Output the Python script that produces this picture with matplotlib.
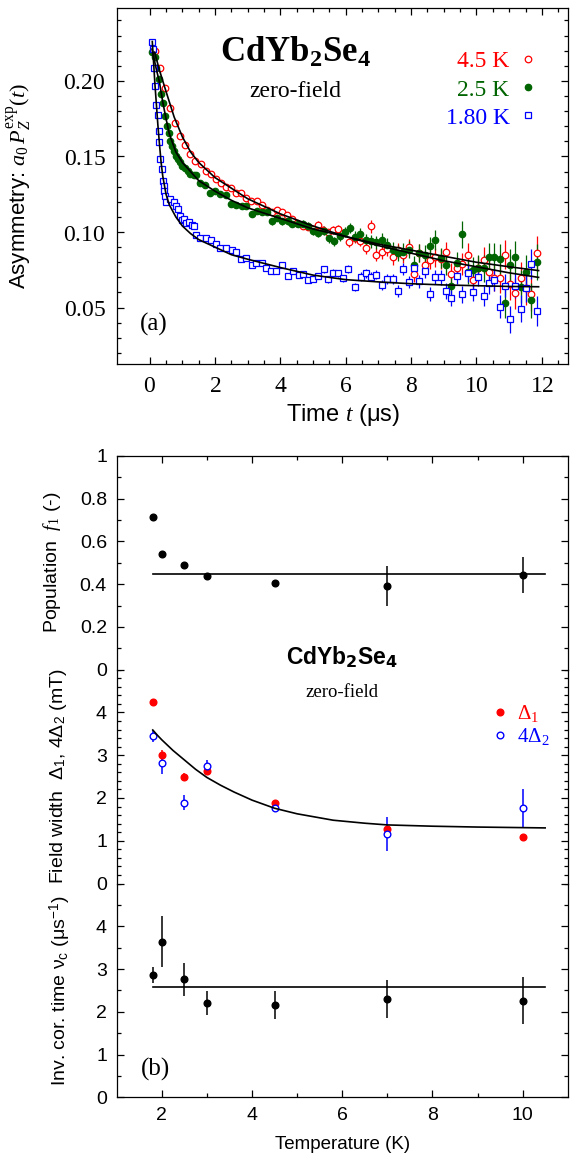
import matplotlib
matplotlib.use('Agg')
import matplotlib.pyplot as plt
from matplotlib.ticker import MultipleLocator, FixedLocator, FuncFormatter

plt.rcParams['font.family'] = ['Liberation Sans', 'DejaVu Sans']
plt.rcParams['mathtext.fontset'] = 'custom'
plt.rcParams['mathtext.rm'] = 'Liberation Serif'
plt.rcParams['mathtext.it'] = 'Liberation Serif:italic'
plt.rcParams['mathtext.bf'] = 'Liberation Serif:bold'
plt.rcParams['mathtext.sf'] = 'Liberation Sans'

# ---- panel (a): asymmetry vs time ----
t_red = [0.15, 0.31, 0.47, 0.62, 0.78, 0.94, 1.09, 1.24, 1.40, 1.56,
         1.71, 1.87, 2.02, 2.17, 2.33, 2.49, 2.64, 2.80, 2.96, 3.11,
         3.27, 3.43, 3.58, 3.73, 3.89, 4.05, 4.21, 4.36, 4.52, 4.68,
         4.83, 4.99, 5.15, 5.30, 5.46, 5.62, 5.77, 5.92, 6.09,
         6.28, 6.45, 6.61, 6.78, 6.94, 7.11, 7.27, 7.44, 7.60, 7.76,
         7.93, 8.09, 8.25, 8.41, 8.58, 8.74, 8.90, 9.06, 9.23, 9.39,
         9.57, 9.73, 9.89, 10.06, 10.22, 10.38, 10.54, 10.71, 10.87, 11.03,
         11.19, 11.36, 11.52, 11.68, 11.86]
a_red = [0.2195, 0.2084, 0.1956, 0.1823, 0.1723, 0.1635, 0.1573, 0.1518, 0.1469, 0.1451,
         0.1403, 0.1387, 0.1352, 0.1325, 0.1299, 0.1292, 0.1259, 0.1259, 0.1226, 0.1204,
         0.1204, 0.1181, 0.1144, 0.1130, 0.1144, 0.1130, 0.1115, 0.1086, 0.1060, 0.1042,
         0.1033, 0.1020, 0.1049, 0.1016, 0.0998, 0.1016, 0.1020, 0.0993, 0.0931,
         0.0960, 0.0943, 0.0894, 0.1038, 0.0851, 0.0865, 0.0890, 0.0832, 0.0878, 0.0845,
         0.0899, 0.0723, 0.0861, 0.0779, 0.0816, 0.0832, 0.0823, 0.0865, 0.0723, 0.0759,
         0.0787, 0.0851, 0.0683, 0.0761, 0.0816, 0.0734, 0.0699, 0.0694, 0.0851, 0.0654,
         0.0594, 0.0694, 0.0628, 0.0588, 0.0861]
e_red = [0.0008, 0.0008, 0.0008, 0.0009, 0.0009, 0.0009, 0.0010, 0.0010, 0.0010, 0.0011,
         0.0011, 0.0012, 0.0012, 0.0012, 0.0013, 0.0013, 0.0014, 0.0014, 0.0015, 0.0015,
         0.0016, 0.0016, 0.0017, 0.0017, 0.0018, 0.0018, 0.0019, 0.0020, 0.0020, 0.0021,
         0.0022, 0.0022, 0.0023, 0.0024, 0.0025, 0.0026, 0.0027, 0.0028, 0.0029,
         0.0035, 0.0037, 0.0039, 0.0044, 0.0042, 0.0044, 0.0046, 0.0048, 0.0050, 0.0052,
         0.0054, 0.0056, 0.0058, 0.0060, 0.0062, 0.0064, 0.0066, 0.0068, 0.0070, 0.0072,
         0.0074, 0.0077, 0.0080, 0.0083, 0.0086, 0.0089, 0.0092, 0.0095, 0.0098, 0.0101,
         0.0104, 0.0107, 0.0110, 0.0113, 0.0116]

t_green = [0.07, 0.15, 0.20, 0.29, 0.35, 0.41, 0.47, 0.53, 0.58, 0.63,
           0.67, 0.73, 0.80, 0.86, 0.92, 1.00, 1.08, 1.16, 1.24, 1.35,
           1.43, 1.53, 1.69, 1.86, 2.00, 2.16, 2.32, 2.49, 2.65, 2.81,
           2.96, 3.14, 3.28, 3.45, 3.59, 3.75, 3.89, 4.06, 4.22, 4.36,
           4.53, 4.69, 4.83, 4.99, 5.16, 5.32, 5.48, 5.65, 5.81, 5.97, 6.14,
           6.28, 6.45, 6.61, 6.78, 6.94, 7.11, 7.27, 7.44, 7.60, 7.76,
           7.93, 8.09, 8.25, 8.41, 8.58, 8.74, 8.90, 9.06, 9.23, 9.39,
           9.57, 9.73, 9.89, 10.06, 10.22, 10.38, 10.54, 10.71, 10.87, 11.03,
           11.19, 11.36, 11.52, 11.68, 11.86]
a_green = [0.2193, 0.2155, 0.2082, 0.2011, 0.1911, 0.1856, 0.1768, 0.1701, 0.1657, 0.1602,
           0.1569, 0.1535, 0.1502, 0.1480, 0.1462, 0.1436, 0.1425, 0.1403, 0.1387, 0.1376,
           0.1380, 0.1325, 0.1314, 0.1259, 0.1270, 0.1254, 0.1245, 0.1188, 0.1181, 0.1170,
           0.1170, 0.1121, 0.1141, 0.1130, 0.1130, 0.1070, 0.1093, 0.1070, 0.1070, 0.1055,
           0.1055, 0.1055, 0.1042, 0.1009, 0.0993, 0.1009, 0.0960, 0.0938, 0.0975, 0.0998, 0.1026,
           0.0970, 0.0986, 0.0944, 0.0938, 0.0931, 0.0949, 0.0915, 0.0882, 0.0861, 0.0871,
           0.0882, 0.0783, 0.0861, 0.0851, 0.0905, 0.0949, 0.0827, 0.0783, 0.0646, 0.0794,
           0.0986, 0.0734, 0.0750, 0.0761, 0.0761, 0.0834, 0.0834, 0.0823, 0.0533, 0.0783,
           0.0834, 0.0639, 0.0734, 0.0550, 0.0799]
e_green = [0.0008, 0.0008, 0.0008, 0.0008, 0.0009, 0.0009, 0.0009, 0.0009, 0.0010, 0.0010,
           0.0010, 0.0010, 0.0011, 0.0011, 0.0011, 0.0012, 0.0012, 0.0012, 0.0013, 0.0013,
           0.0013, 0.0014, 0.0014, 0.0015, 0.0015, 0.0016, 0.0016, 0.0017, 0.0017, 0.0018,
           0.0018, 0.0019, 0.0019, 0.0020, 0.0020, 0.0021, 0.0021, 0.0022, 0.0023, 0.0024,
           0.0024, 0.0025, 0.0026, 0.0027, 0.0028, 0.0029, 0.0030, 0.0031, 0.0032, 0.0033, 0.0034,
           0.0036, 0.0038, 0.0040, 0.0042, 0.0044, 0.0046, 0.0048, 0.0050, 0.0052, 0.0054,
           0.0056, 0.0058, 0.0060, 0.0062, 0.0064, 0.0066, 0.0068, 0.0070, 0.0073, 0.0076,
           0.0090, 0.0080, 0.0083, 0.0086, 0.0089, 0.0092, 0.0095, 0.0098, 0.0101, 0.0104,
           0.0107, 0.0110, 0.0113, 0.0116, 0.0119]

t_blue = [0.08, 0.11, 0.13, 0.17, 0.20, 0.24, 0.28, 0.30, 0.33, 0.37,
          0.40, 0.43, 0.45, 0.47, 0.51, 0.61, 0.73, 0.80, 0.88, 0.92,
          0.98, 1.05, 1.12, 1.20, 1.28, 1.35, 1.41, 1.53, 1.71, 1.89,
          2.02, 2.16, 2.34, 2.51, 2.65, 2.80, 2.96, 3.14, 3.26, 3.45,
          3.57, 3.72, 3.87, 4.06, 4.23, 4.38, 4.57, 4.69, 4.85, 5.00,
          5.16, 5.32, 5.46, 5.61, 5.77, 5.91, 6.08,
          6.28, 6.46, 6.61, 6.78, 6.94, 7.11, 7.27, 7.43, 7.60, 7.76,
          7.92, 8.09, 8.25, 8.41, 8.58, 8.74, 8.90, 9.06, 9.23, 9.39,
          9.57, 9.73, 9.89, 10.05, 10.22, 10.38, 10.54, 10.71, 10.87, 11.03,
          11.19, 11.36, 11.52, 11.68, 11.86]
a_blue = [0.2259, 0.2210, 0.2082, 0.1967, 0.1839, 0.1772, 0.1666, 0.1595, 0.1480, 0.1418,
          0.1336, 0.1303, 0.1270, 0.1241, 0.1197, 0.1219, 0.1197, 0.1175, 0.1153, 0.1104,
          0.1082, 0.1086, 0.1060, 0.1064, 0.1044, 0.1037, 0.0982, 0.0960, 0.0960, 0.0949,
          0.0922, 0.0894, 0.0894, 0.0878, 0.0865, 0.0820, 0.0827, 0.0781, 0.0798, 0.0798,
          0.0760, 0.0745, 0.0745, 0.0781, 0.0710, 0.0739, 0.0714, 0.0723, 0.0683, 0.0688,
          0.0710, 0.0754, 0.0688, 0.0732, 0.0728, 0.0694, 0.0754,
          0.0639, 0.0705, 0.0727, 0.0705, 0.0717, 0.0650, 0.0688, 0.0688, 0.0610, 0.0754,
          0.0672, 0.0761, 0.0676, 0.0743, 0.0590, 0.0701, 0.0701, 0.0610, 0.0562, 0.0710,
          0.0588, 0.0727, 0.0606, 0.0705, 0.0577, 0.0661, 0.0683, 0.0506, 0.0646, 0.0424,
          0.0646, 0.0492, 0.0628, 0.0787, 0.0478]
e_blue = [0.0006, 0.0006, 0.0006, 0.0006, 0.0006, 0.0006, 0.0007, 0.0007, 0.0007, 0.0007,
          0.0007, 0.0007, 0.0007, 0.0007, 0.0008, 0.0008, 0.0008, 0.0008, 0.0009, 0.0009,
          0.0009, 0.0009, 0.0010, 0.0010, 0.0010, 0.0010, 0.0011, 0.0011, 0.0011, 0.0012,
          0.0012, 0.0012, 0.0013, 0.0013, 0.0014, 0.0014, 0.0015, 0.0015, 0.0016, 0.0016,
          0.0017, 0.0017, 0.0018, 0.0018, 0.0019, 0.0019, 0.0020, 0.0020, 0.0021, 0.0021,
          0.0022, 0.0022, 0.0023, 0.0023, 0.0024, 0.0024, 0.0025,
          0.0027, 0.0028, 0.0029, 0.0030, 0.0031, 0.0033, 0.0034, 0.0035, 0.0037, 0.0038,
          0.0040, 0.0041, 0.0043, 0.0044, 0.0046, 0.0048, 0.0050, 0.0052, 0.0054, 0.0056,
          0.0058, 0.0060, 0.0062, 0.0065, 0.0067, 0.0070, 0.0073, 0.0076, 0.0079, 0.0089,
          0.0085, 0.0090, 0.0094, 0.0098, 0.0102]

# fit curves
fit_t_red = [0.15, 0.3, 0.5, 0.75, 1.0, 1.25, 1.5, 2.0, 2.5, 3.0, 3.5, 4.0, 5.0, 6.0,
             7.0, 8.0, 9.0, 10.0, 11.0, 11.9]
fit_red = [0.219, 0.207, 0.193, 0.176, 0.163, 0.153, 0.146, 0.136, 0.129, 0.122, 0.117,
           0.112, 0.104, 0.097, 0.091, 0.086, 0.081, 0.077, 0.073, 0.070]
fit_t_green = [0.07, 0.2, 0.3, 0.4, 0.5, 0.6, 0.8, 1.0, 1.25, 1.5, 2.0, 2.5, 3.0, 4.0,
               5.0, 6.0, 7.0, 8.0, 9.0, 10.0, 11.0, 11.9]
fit_green = [0.221, 0.208, 0.199, 0.186, 0.175, 0.165, 0.153, 0.146, 0.140, 0.134, 0.127,
             0.121, 0.116, 0.109, 0.102, 0.097, 0.092, 0.088, 0.084, 0.080, 0.077, 0.0745]
fit_t_blue = [0.08, 0.12, 0.16, 0.2, 0.25, 0.3, 0.35, 0.4, 0.5, 0.6, 0.8, 1.0, 1.25, 1.5,
              2.0, 2.5, 3.0, 4.0, 5.0, 6.0, 7.0, 8.0, 9.0, 10.0, 11.0, 11.9]
fit_blue = [0.226, 0.212, 0.198, 0.186, 0.171, 0.158, 0.146, 0.137, 0.125, 0.118, 0.110,
            0.104, 0.099, 0.095, 0.090, 0.085, 0.082, 0.0765, 0.0715, 0.0685, 0.067,
            0.0658, 0.065, 0.0645, 0.064, 0.0638]

# ---- panel (b): fit parameters vs temperature ----
temps = [1.8, 2.0, 2.5, 3.0, 4.5, 7.0, 10.0]
f1 = [0.715, 0.543, 0.488, 0.436, 0.404, 0.391, 0.444]
f1_err = [0.01, 0.01, 0.01, 0.01, 0.01, 0.093, 0.083]
f1_fit_T = [1.8, 10.5]
f1_fit = [0.449, 0.449]

delta1 = [4.24, 3.00, 2.50, 2.62, 1.89, 1.27, 1.08]
delta1_err = [0.07, 0.12, 0.09, 0.07, 0.06, 0.06, 0.04]
delta2x4 = [3.45, 2.82, 1.89, 2.75, 1.77, 1.16, 1.77]
delta2x4_err = [0.14, 0.25, 0.17, 0.14, 0.10, 0.40, 0.45]
width_fit_T = [1.8, 1.9, 2.0, 2.25, 2.5, 2.75, 3.0, 3.3, 3.6, 4.0, 4.5, 5.0, 5.8, 6.5,
               7.0, 8.0, 9.0, 10.5]
width_fit = [3.59, 3.47, 3.36, 3.11, 2.89, 2.67, 2.48, 2.30, 2.14, 1.95, 1.76, 1.63, 1.48,
             1.41, 1.37, 1.34, 1.32, 1.30]

nu_c = [2.86, 3.64, 2.76, 2.21, 2.16, 2.30, 2.26]
nu_c_err = [0.18, 0.60, 0.39, 0.28, 0.32, 0.44, 0.55]
nu_fit_T = [1.8, 10.5]
nu_fit = [2.59, 2.59]

RED = '#ff0000'
GREEN = '#006400'
BLUE = '#0000ff'
SERIF = 'Liberation Serif'


def style_ticks(ax, major=5, minor=3):
    ax.tick_params(which='both', direction='in', top=True, right=True, width=0.9)
    ax.tick_params(which='major', length=major)
    ax.tick_params(which='minor', length=minor)
    for s in ax.spines.values():
        s.set_linewidth(0.9)


fig = plt.figure(figsize=(5.76, 11.56), dpi=100)

# panel (a)
ax = fig.add_axes([117 / 576, 1 - 364.3 / 1156, 451 / 576, 356 / 1156])
ax.errorbar(t_red, a_red, yerr=e_red, fmt='none', ecolor=RED, elinewidth=0.9, capsize=0, zorder=2)
ax.errorbar(t_green, a_green, yerr=e_green, fmt='none', ecolor=GREEN, elinewidth=0.9, capsize=0, zorder=2)
ax.errorbar(t_blue, a_blue, yerr=e_blue, fmt='none', ecolor=BLUE, elinewidth=0.9, capsize=0, zorder=2)
h_red, = ax.plot(t_red, a_red, 'o', ms=4.7, mfc='white', mec=RED, mew=0.9, zorder=3, label='4.5 K')
h_green, = ax.plot(t_green, a_green, 'o', ms=4.6, mfc=GREEN, mec=GREEN, mew=0.9, zorder=3, label='2.5 K')
h_blue, = ax.plot(t_blue, a_blue, 's', ms=4.2, mfc='white', mec=BLUE, mew=0.9, zorder=3, label='1.80 K')
ax.plot(fit_t_red, fit_red, '-', color='black', lw=1.2, zorder=4)
ax.plot(fit_t_green, fit_green, '-', color='black', lw=1.2, zorder=4)
ax.plot(fit_t_blue, fit_blue, '-', color='black', lw=1.2, zorder=4)

ax.set_xlim(-1, 12.8)
ax.set_ylim(0.0125, 0.248)
ax.xaxis.set_major_locator(FixedLocator([0, 2, 4, 6, 8, 10, 12]))
ax.xaxis.set_minor_locator(FixedLocator([i * 0.5 for i in range(26)]))
ax.yaxis.set_major_locator(MultipleLocator(0.05))
ax.yaxis.set_minor_locator(MultipleLocator(0.01))
ax.xaxis.set_major_formatter(FuncFormatter(lambda v, p: '$%d$' % round(v)))
ax.yaxis.set_major_formatter(FuncFormatter(lambda v, p: '$%.2f$' % v))
style_ticks(ax)
ax.tick_params(axis='both', which='major', labelsize=17, pad=8)

ax.set_xlabel('Time $t$ (\u03bcs)', fontsize=17)
ax.xaxis.set_label_coords(0.5, -0.105)
ax.set_ylabel('Asymmetry: $a_0\\,P_Z^{\\rm exp}(t)$', fontsize=16)
ax.yaxis.set_label_coords(-0.183, 0.5)

ax.text(0.395, 0.850, 'CdYb$_\\mathbf{2}$Se$_\\mathbf{4}$', transform=ax.transAxes,
        ha='center', va='baseline', fontsize=25, fontweight='bold', family=SERIF)
ax.text(0.395, 0.766, 'zero-field', transform=ax.transAxes, ha='center', va='center',
        fontsize=17, family=SERIF)
ax.text(0.082, 0.111, '(a)', transform=ax.transAxes, ha='center', va='center',
        fontsize=18, family=SERIF)
ax.legend([h_red, h_green, h_blue], ['4.5 K', '2.5 K', '1.80 K'], loc='upper right',
          bbox_to_anchor=(0.975, 0.94), frameon=False, markerfirst=False, numpoints=1,
          handlelength=0.6, handletextpad=0.5, labelspacing=0.28, borderpad=0.4,
          prop={'family': SERIF, 'size': 17}, labelcolor=[RED, GREEN, BLUE])

# panel (b): three stacked panels sharing temperature axis
h = 213.8 / 1156
b0 = 1 - 1097.3 / 1156
ax_nu = fig.add_axes([116.7 / 576, b0, 451 / 576, h])
ax_w = fig.add_axes([116.7 / 576, b0 + h, 451 / 576, h], sharex=ax_nu)
ax_f = fig.add_axes([116.7 / 576, b0 + 2 * h, 451 / 576, h], sharex=ax_nu)

ms_b = 4.8
# population
ax_f.errorbar(temps, f1, yerr=f1_err, fmt='o', color='black', ms=ms_b, elinewidth=1.1, capsize=0)
ax_f.plot(f1_fit_T, f1_fit, '-', color='black', lw=1.2)
ax_f.set_ylim(0, 1)
ax_f.yaxis.set_major_locator(FixedLocator([0, 0.2, 0.4, 0.6, 0.8, 1.0]))
ax_f.yaxis.set_minor_locator(MultipleLocator(0.1))
ax_f.yaxis.set_major_formatter(FuncFormatter(lambda v, p: '%g' % round(v, 1)))
ax_f.set_ylabel('Population  $f_1$ (-)', fontsize=14)
ax_f.yaxis.set_label_coords(-0.119, 0.5)
ax_f.text(0.5, 0.027, 'CdYb$_\\mathbf{2}$Se$_\\mathbf{4}$', transform=ax_f.transAxes,
          ha='center', va='baseline', fontsize=16.5, fontweight='bold', math_fontfamily='dejavusans')

# field widths
ax_w.errorbar(temps, delta2x4, yerr=delta2x4_err, fmt='none', ecolor=BLUE, elinewidth=1.1, capsize=0, zorder=2)
ax_w.errorbar(temps, delta1, yerr=delta1_err, fmt='none', ecolor=RED, elinewidth=1.1, capsize=0, zorder=2)
h_d1, = ax_w.plot(temps, delta1, 'o', ms=ms_b, color=RED, zorder=3)
h_d2, = ax_w.plot(temps, delta2x4, 'o', ms=ms_b, mfc='white', mec=BLUE, mew=1.0, zorder=3)
ax_w.plot(width_fit_T, width_fit, '-', color='black', lw=1.2, zorder=4)
ax_w.set_ylim(0, 5)
ax_w.yaxis.set_major_locator(FixedLocator([0, 1, 2, 3, 4]))
ax_w.yaxis.set_minor_locator(MultipleLocator(0.2))
ax_w.set_ylabel('Field width  \u0394$_\\mathsf{1}$, 4\u0394$_\\mathsf{2}$ (mT)', fontsize=14)
ax_w.yaxis.set_label_coords(-0.105, 0.5)
ax_w.text(0.5, 0.892, 'zero-field', transform=ax_w.transAxes, ha='center', va='center',
          fontsize=13.5, family=SERIF)
ax_w.legend([h_d1, h_d2], ['$\\Delta_1$', '$4\\Delta_2$'], loc='upper left',
            bbox_to_anchor=(0.795, 0.93), frameon=False, numpoints=1, handlelength=0.6,
            handletextpad=0.5, labelspacing=0.1, borderpad=0.4,
            prop={'family': SERIF, 'size': 15}, labelcolor=[RED, BLUE])

# correlation rate
ax_nu.errorbar(temps, nu_c, yerr=nu_c_err, fmt='o', color='black', ms=ms_b, elinewidth=1.1, capsize=0)
ax_nu.plot(nu_fit_T, nu_fit, '-', color='black', lw=1.2)
ax_nu.set_ylim(0, 5)
ax_nu.yaxis.set_major_locator(FixedLocator([0, 1, 2, 3, 4]))
ax_nu.yaxis.set_minor_locator(MultipleLocator(0.5))
ax_nu.set_ylabel('Inv. cor. time \u03bd$_\\mathsf{c}$ (\u03bcs$^{\\mathsf{-1}}$)', fontsize=14)
ax_nu.yaxis.set_label_coords(-0.097, 0.5)
ax_nu.set_xlabel('Temperature (K)', fontsize=13.5)
ax_nu.xaxis.set_label_coords(0.5, -0.182)
ax_nu.text(0.0865, 0.132, '(b)', transform=ax_nu.transAxes, ha='center', va='center',
           fontsize=18, family=SERIF)

ax_nu.set_xlim(1, 11)
ax_nu.xaxis.set_major_locator(FixedLocator([2, 4, 6, 8, 10]))
ax_nu.xaxis.set_minor_locator(FixedLocator([3, 5, 7, 9]))

for a in (ax_f, ax_w, ax_nu):
    style_ticks(a)
    a.tick_params(axis='both', which='major', labelsize=14, pad=7)

ax_f.spines['bottom'].set_visible(False)
ax_w.spines['top'].set_visible(False)
ax_w.spines['bottom'].set_visible(False)
ax_nu.spines['top'].set_visible(False)
ax_f.tick_params(axis='x', which='both', bottom=False, labelbottom=False)
ax_w.tick_params(axis='x', which='both', bottom=False, top=False, labelbottom=False)
ax_nu.tick_params(axis='x', which='both', top=False)

fig.savefig('out.png', dpi=100)
